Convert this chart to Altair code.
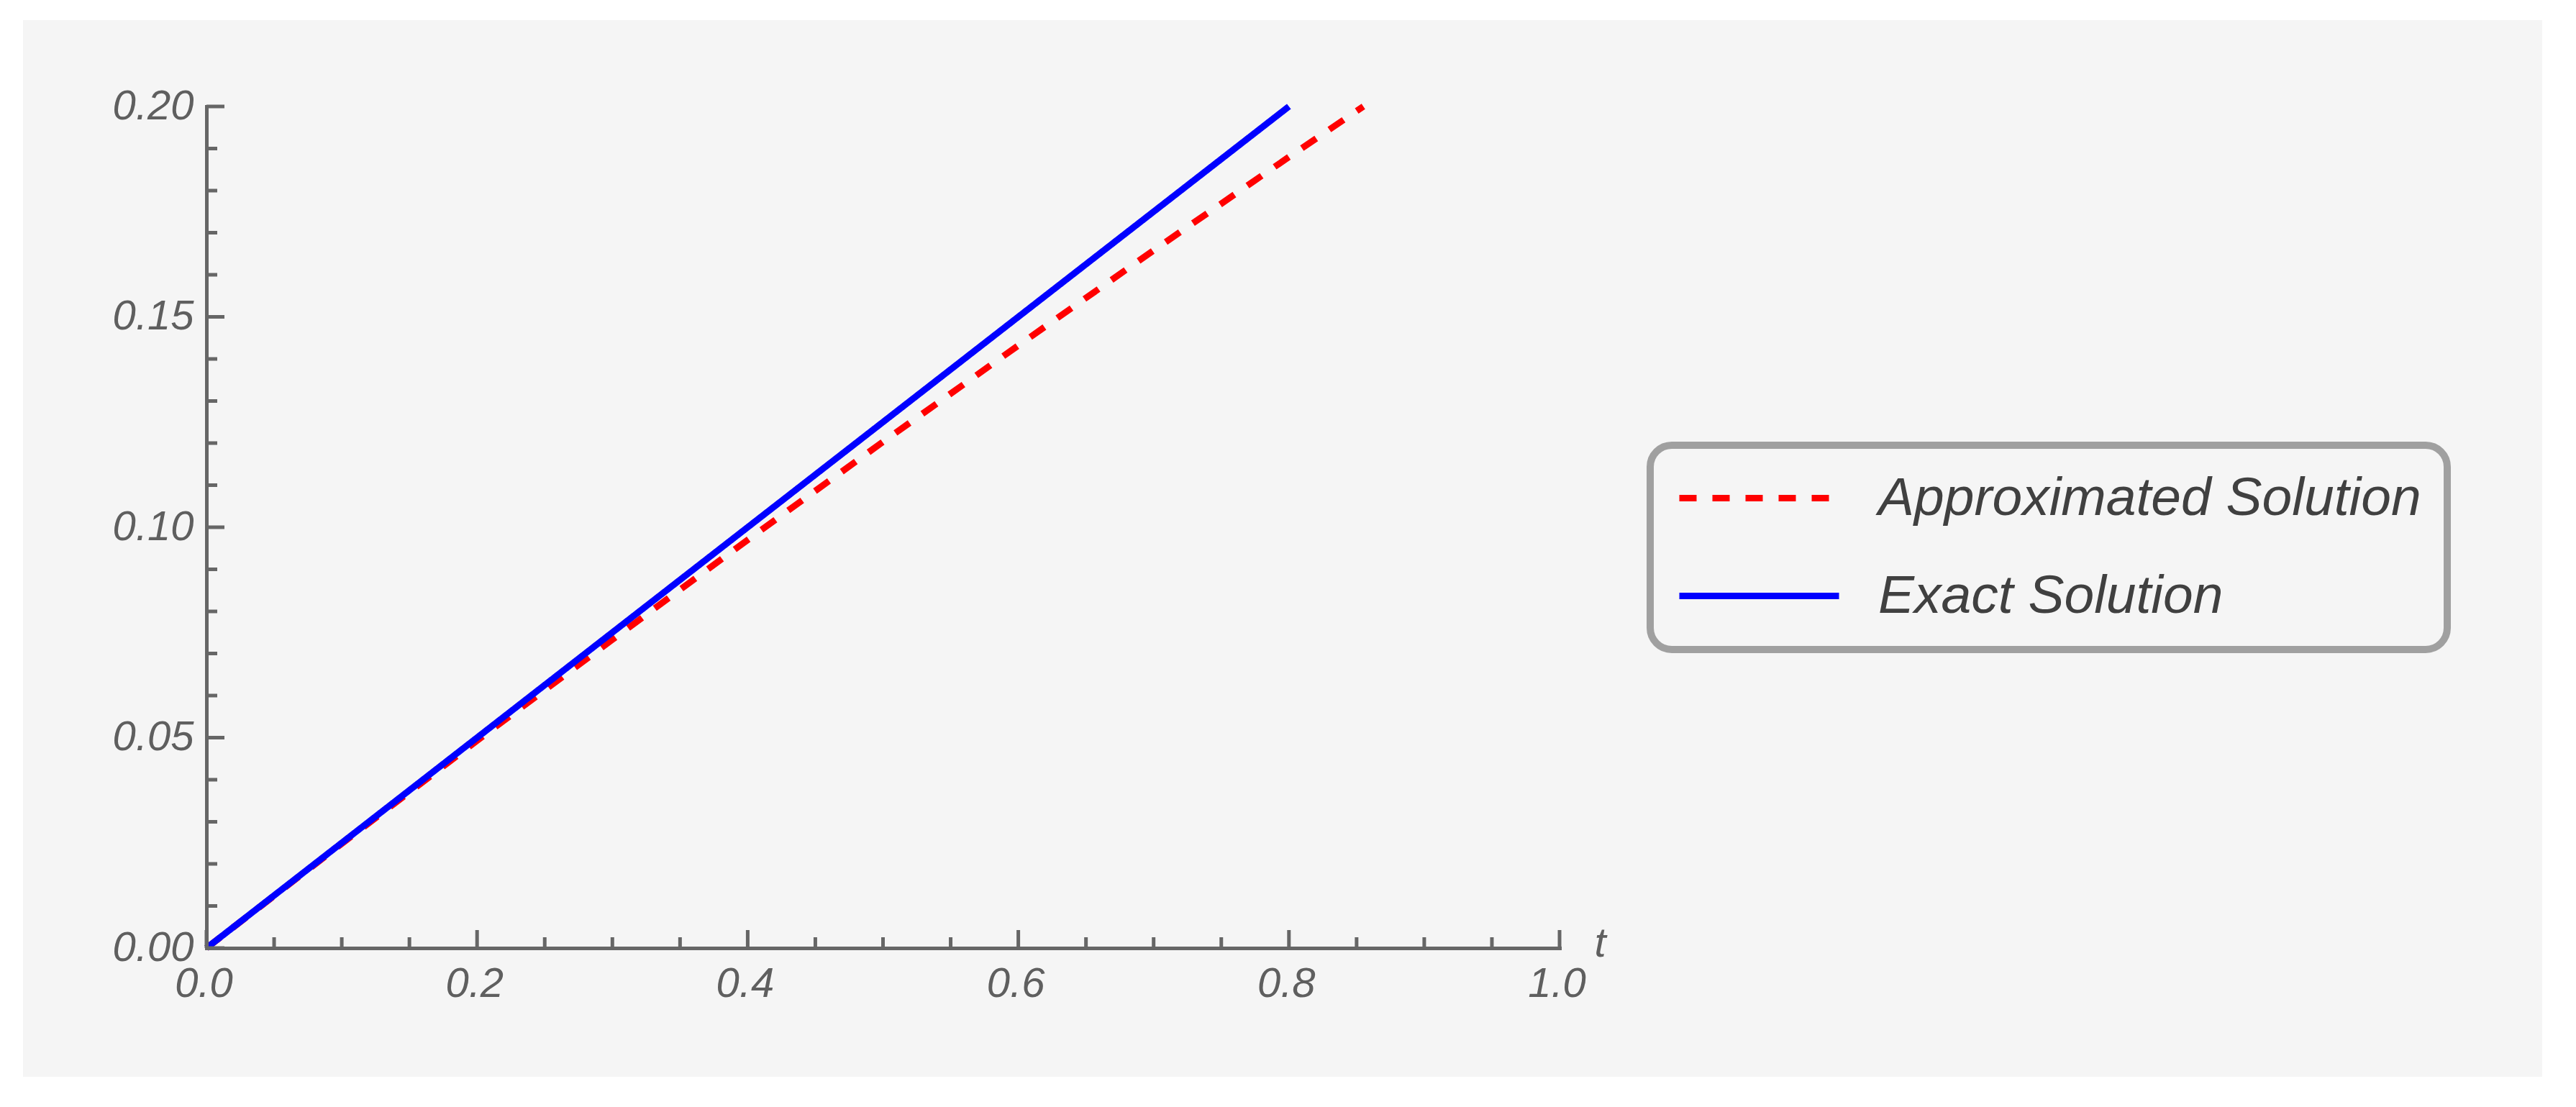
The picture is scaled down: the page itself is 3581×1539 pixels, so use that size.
import altair as alt
import pandas as pd

# ---- data ----
series_names = ["Approximated Solution", "Exact Solution"]
series_colors = ["#ff0000", "#0000ff"]

approx_t = [0.0, 0.1, 0.2, 0.3, 0.4, 0.5, 0.6, 0.7, 0.8, 0.855]
approx_u = [0.0, 0.0248, 0.0493, 0.0733, 0.0970, 0.1203, 0.1432, 0.1658, 0.1880, 0.2000]

exact_t = [0.0, 0.1, 0.2, 0.3, 0.4, 0.5, 0.6, 0.7, 0.8]
exact_u = [0.0, 0.025, 0.05, 0.075, 0.1, 0.125, 0.15, 0.175, 0.2]

x_major = [0.0, 0.2, 0.4, 0.6, 0.8, 1.0]
x_minor = [0.05, 0.1, 0.15, 0.25, 0.3, 0.35, 0.45, 0.5, 0.55,
           0.65, 0.7, 0.75, 0.85, 0.9, 0.95]
y_major = [0.0, 0.05, 0.1, 0.15, 0.2]
y_minor = [0.01, 0.02, 0.03, 0.04, 0.06, 0.07, 0.08, 0.09, 0.11, 0.12,
           0.13, 0.14, 0.16, 0.17, 0.18, 0.19]

# ---- styling ----
W, H = 1881, 1170
AXIS_COLOR = "#666666"
LABEL_COLOR = "#5f5f5f"
FONT = "Liberation Sans"
TICK_FONT_SIZE = 58
MAJOR_LEN, MINOR_LEN = 25, 15

rows = []
for t, u in zip(approx_t, approx_u):
    rows.append({"series": series_names[0], "t": t, "u": u})
for t, u in zip(exact_t, exact_u):
    rows.append({"series": series_names[1], "t": t, "u": u})
df = pd.DataFrame(rows)

xscale = alt.Scale(domain=[0, 1], nice=False, zero=False)
yscale = alt.Scale(domain=[0, 0.2], nice=False, zero=False)

x_axis = alt.Axis(
    values=x_major, format=".1f", labelFlush=False, labelOverlap=False,
    ticks=False, tickSize=0, grid=False,
    domainColor=AXIS_COLOR, domainWidth=5, domainCap="square",
    labelFont=FONT, labelFontStyle="italic", labelFontSize=TICK_FONT_SIZE,
    labelColor=LABEL_COLOR, labelPadding=21, labelOffset=-4,
    title="t", titleX=1937, titleY=-6, titleAlign="center",
    titleBaseline="middle", titleFont=FONT, titleFontStyle="italic",
    titleFontWeight="normal", titleFontSize=TICK_FONT_SIZE, titleColor=LABEL_COLOR,
    zindex=1,
)
y_axis = alt.Axis(
    values=y_major, format=".2f", labelOverlap=False,
    ticks=False, tickSize=0, grid=False,
    domainColor=AXIS_COLOR, domainWidth=5, domainCap="square",
    labelFont=FONT, labelFontStyle="italic", labelFontSize=TICK_FONT_SIZE,
    labelColor=LABEL_COLOR, labelPadding=18, title="", zindex=1,
)


def frame(x0, x1, y0, y1):
    # white page margin around the grey panel (decoration only)
    return alt.Chart(alt.Data(values=[{"k": 1}])).mark_rect(color="#ffffff").encode(
        x=alt.value(x0), x2=alt.value(x1), y=alt.value(y0), y2=alt.value(y1)
    )


frames = [
    frame(-279, -255, -140, 1382),   # left
    frame(3247, 3283, -140, 1382),   # right
    frame(-279, 3283, -140, -120),   # top
    frame(-279, 3283, 1349, 1382),   # bottom
]


def xticks(vals, length):
    return alt.Chart(pd.DataFrame({"t": vals})).mark_rule(
        color=AXIS_COLOR, strokeWidth=5, strokeCap="butt"
    ).encode(
        x=alt.X("t:Q", scale=xscale, axis=x_axis),
        y=alt.value(H), y2=alt.value(H - length),
    )


def yticks(vals, length):
    return alt.Chart(pd.DataFrame({"u": vals})).mark_rule(
        color=AXIS_COLOR, strokeWidth=5, strokeCap="butt"
    ).encode(
        y=alt.Y("u:Q", scale=yscale, axis=y_axis),
        x=alt.value(0), x2=alt.value(length),
    )


legend = alt.Legend(
    title=None, orient="none", legendX=2007, legendY=471,
    symbolType="stroke", symbolSize=49284, symbolStrokeWidth=9,
    labelFont=FONT, labelFontStyle="italic", labelFontSize=75,
    labelColor="#404040", labelOffset=50, labelLimit=0,
    padding=36, rowPadding=60, clipHeight=75,
    strokeColor="#a0a0a0", cornerRadius=30, fillColor="#f5f5f5",
    zindex=1,
)

lines = alt.Chart(df).mark_line(strokeWidth=9, strokeCap="butt").encode(
    x=alt.X("t:Q", scale=xscale, axis=x_axis),
    y=alt.Y("u:Q", scale=yscale, axis=y_axis),
    color=alt.Color("series:N", scale=alt.Scale(domain=series_names, range=series_colors),
                    legend=legend),
    strokeDash=alt.StrokeDash("series:N", scale=alt.Scale(domain=series_names,
                              range=[[24, 22], [1, 0]]), legend=legend),
    order=alt.Order("t:Q"),
)

chart = alt.layer(
    lines,
    xticks(x_major, MAJOR_LEN), xticks(x_minor, MINOR_LEN),
    yticks(y_major, MAJOR_LEN), yticks(y_minor, MINOR_LEN),
    *frames,
).properties(
    width=W, height=H,
    padding=0,
    background="#f5f5f5",
).configure_view(strokeWidth=0).configure_legend(strokeWidth=10)

chart.save("out.html", embed_options={"renderer": "svg", "actions": False})
